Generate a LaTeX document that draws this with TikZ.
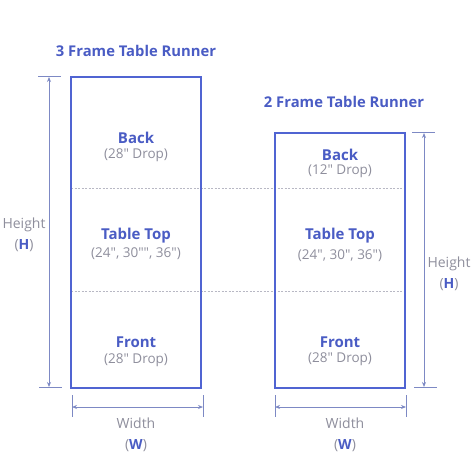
\documentclass[tikz,border=0pt]{standalone}
\usepackage{fontspec}
\setmainfont{Open Sans}[Ligatures=TeXOff]
\usetikzlibrary{arrows.meta}
\definecolor{rblue}{HTML}{5064D2}
\definecolor{tblue}{HTML}{4A5CC4}
\definecolor{tgray}{HTML}{8E8E9C}
\definecolor{dimc}{HTML}{7D89C4}
\definecolor{dashc}{HTML}{B8B8C4}
\tikzset{
  frame/.style={draw=rblue, line width=2.4bp, fill=none},
  divider/.style={draw=dashc, line width=0.7bp, dash pattern=on 2bp off 1.5bp},
  dimline/.style={draw=dimc, line width=1bp, {Stealth[length=5bp,width=4bp]}-{Stealth[length=5bp,width=4bp]}},
  tick/.style={draw=dimc, line width=1bp},
  title/.style={text=tblue, font=\fontsize{14.8bp}{17bp}\selectfont\bfseries},
  part/.style={text=tblue, font=\fontsize{15bp}{17bp}\selectfont\bfseries},
  sub/.style={text=tgray, font=\fontsize{13.5bp}{16bp}\selectfont},
  dimtxt/.style={text=tgray, font=\fontsize{14bp}{21bp}\selectfont, align=center},
}
\begin{document}
\begin{tikzpicture}[x=1bp,y=-1bp]
\useasboundingbox (0,0) rectangle (474,474);
% corners
\coordinate (LTL) at (71,77);  \coordinate (LBR) at (201,388);
\coordinate (RTL) at (275,133); \coordinate (RBR) at (405,388);
% dividers
\coordinate (d1a) at (71,188); \coordinate (d1b) at (405,188);
\coordinate (d2a) at (71,291); \coordinate (d2b) at (405,291);
\draw[divider] (d1a) -- (d1b);
\draw[divider] (d2a) -- (d2b);
% frames
\draw[frame] (LTL) rectangle (LBR);
\draw[frame] (RTL) rectangle (RBR);
% titles
\node[title] (t3) at (136,51) {3 Frame Table Runner};
\node[title] (t2) at (344,102) {2 Frame Table Runner};
% left labels
\node[part] (lback) at (136,138) {Back};
\node[sub] (lbacks) at (136,155) {(28" Drop)};
\node[part] (ltop) at (136,236) {Table Top};
\node[sub] (ltops) at (136,254) {(24", 30"", 36")};
\node[part] (lfront) at (136,342) {Front};
\node[sub] (lfronts) at (136,360) {(28" Drop)};
% right labels
\node[part] (rback) at (340,155) {Back};
\node[sub] (rbacks) at (340,171) {(12" Drop)};
\node[part] (rtop) at (340,236) {Table Top};
\node[sub] (rtops) at (340,256) {(24", 30", 36")};
\node[part] (rfront) at (340,342) {Front};
\node[sub] (rfronts) at (340,359) {(28" Drop)};
% left height
\coordinate (lh1a) at (38,77); \coordinate (lh1b) at (61,77);
\coordinate (lh2a) at (39,387); \coordinate (lh2b) at (62,387);
\coordinate (lha) at (49,77); \coordinate (lhb) at (49,387);
\draw[tick] (lh1a) -- (lh1b);
\draw[tick] (lh2a) -- (lh2b);
\draw[dimline] (lha) -- (lhb);
\node[dimtxt, inner sep=1bp] (lht) at (24,235) {Height\\(\textcolor{tblue}{\bfseries H})};
% right height
\coordinate (rh1a) at (412,133); \coordinate (rh1b) at (435,133);
\coordinate (rh2a) at (414,387); \coordinate (rh2b) at (437,387);
\coordinate (rha) at (424,133); \coordinate (rhb) at (424,387);
\draw[tick] (rh1a) -- (rh1b);
\draw[tick] (rh2a) -- (rh2b);
\draw[dimline] (rha) -- (rhb);
\node[dimtxt] (rht) at (449,274) {Height\\(\textcolor{tblue}{\bfseries H})};
% left width
\coordinate (lw1a) at (72,395); \coordinate (lw1b) at (72,417);
\coordinate (lw2a) at (203,395); \coordinate (lw2b) at (203,417);
\coordinate (lwa) at (72,407); \coordinate (lwb) at (203,407);
\draw[tick] (lw1a) -- (lw1b);
\draw[tick] (lw2a) -- (lw2b);
\draw[dimline] (lwa) -- (lwb);
\node[dimtxt] (lwt) at (136,435) {Width\\(\textcolor{tblue}{\bfseries W})};
% right width
\coordinate (rw1a) at (275,395); \coordinate (rw1b) at (275,417);
\coordinate (rw2a) at (406,395); \coordinate (rw2b) at (406,417);
\coordinate (rwa) at (275,407); \coordinate (rwb) at (406,407);
\draw[tick] (rw1a) -- (rw1b);
\draw[tick] (rw2a) -- (rw2b);
\draw[dimline] (rwa) -- (rwb);
\node[dimtxt] (rwt) at (345,435) {Width\\(\textcolor{tblue}{\bfseries W})};
\end{tikzpicture}
\end{document}
